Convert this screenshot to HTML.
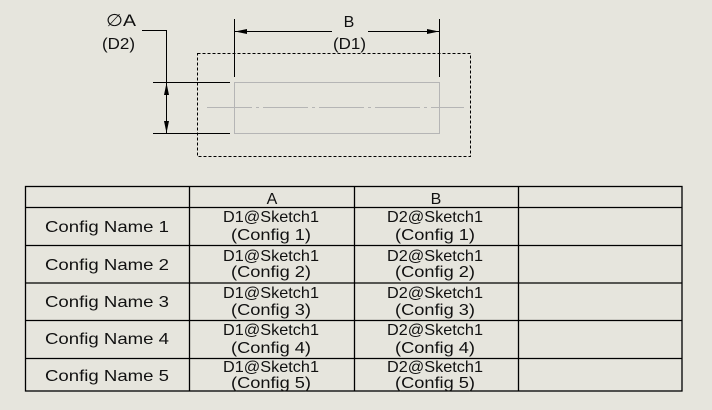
<!DOCTYPE html>
<html><head><style>
html,body{margin:0;padding:0;background:#E6E5DD;}
svg{display:block}
text{font-family:"Liberation Sans",sans-serif;fill:#111;}
</style></head><body>
<svg width="712" height="410" viewBox="0 0 712 410">
<rect width="712" height="410" fill="#E6E5DD"/>
<rect x="197.5" y="53.5" width="273" height="103" fill="none" stroke="#000" stroke-dasharray="3,2"/>
<rect x="234.5" y="82.5" width="205" height="51" fill="none" stroke="#b5b5b5"/>
<line x1="207" y1="107.5" x2="464" y2="107.5" stroke="#b5b5b5" stroke-dasharray="45,4,3,4"/>
<g stroke="#000" stroke-width="1" fill="none">
<line x1="142" y1="30.5" x2="166.5" y2="30.5"/>
<line x1="166.5" y1="30" x2="166.5" y2="133"/>
<line x1="153" y1="82.5" x2="230" y2="82.5"/>
<line x1="153" y1="133.5" x2="230" y2="133.5"/>
<line x1="234.5" y1="19" x2="234.5" y2="77"/>
<line x1="439.5" y1="19" x2="439.5" y2="77"/>
<line x1="234" y1="31.5" x2="332" y2="31.5"/>
<line x1="368" y1="31.5" x2="439" y2="31.5"/>
</g>
<polygon points="235,31.5 247,29 247,34" fill="#000"/>
<polygon points="439,31.5 427,29 427,34" fill="#000"/>
<polygon points="166.5,83 164,95 169,95" fill="#000"/>
<polygon points="166.5,133 164,121 169,121" fill="#000"/>
<text x="106" y="26" font-size="17" textLength="30" lengthAdjust="spacingAndGlyphs">∅A</text>
<text x="102" y="49" font-size="16" textLength="33" lengthAdjust="spacingAndGlyphs">(D2)</text>
<text x="349" y="27" font-size="16" text-anchor="middle">B</text>
<text x="333" y="49" font-size="16" textLength="33" lengthAdjust="spacingAndGlyphs">(D1)</text>
<g stroke="#000" stroke-width="1.3" fill="none">
<rect x="25.5" y="186.5" width="656.5" height="204.5"/>
<line x1="25" y1="207.5" x2="682" y2="207.5"/>
<line x1="25" y1="245.5" x2="682" y2="245.5"/>
<line x1="25" y1="283" x2="682" y2="283"/>
<line x1="25" y1="320.5" x2="682" y2="320.5"/>
<line x1="25" y1="358.5" x2="682" y2="358.5"/>
<line x1="189.5" y1="186" x2="189.5" y2="391"/>
<line x1="354.5" y1="186" x2="354.5" y2="391"/>
<line x1="518.5" y1="186" x2="518.5" y2="391"/>
</g>
<g font-size="16" text-anchor="middle" lengthAdjust="spacingAndGlyphs">
<text x="272" y="204">A</text>
<text x="436" y="204">B</text>
<text x="107" y="232" textLength="124" lengthAdjust="spacingAndGlyphs">Config Name 1</text>
<text x="107" y="270" textLength="124" lengthAdjust="spacingAndGlyphs">Config Name 2</text>
<text x="107" y="307" textLength="124" lengthAdjust="spacingAndGlyphs">Config Name 3</text>
<text x="107" y="344" textLength="124" lengthAdjust="spacingAndGlyphs">Config Name 4</text>
<text x="107" y="381" textLength="124" lengthAdjust="spacingAndGlyphs">Config Name 5</text>
<text x="271" y="222" textLength="96" lengthAdjust="spacingAndGlyphs">D1@Sketch1</text><text x="271" y="240" textLength="80" lengthAdjust="spacingAndGlyphs">(Config 1)</text>
<text x="271" y="261" textLength="96" lengthAdjust="spacingAndGlyphs">D1@Sketch1</text><text x="271" y="277" textLength="80" lengthAdjust="spacingAndGlyphs">(Config 2)</text>
<text x="271" y="298" textLength="96" lengthAdjust="spacingAndGlyphs">D1@Sketch1</text><text x="271" y="315" textLength="80" lengthAdjust="spacingAndGlyphs">(Config 3)</text>
<text x="271" y="335" textLength="96" lengthAdjust="spacingAndGlyphs">D1@Sketch1</text><text x="271" y="353" textLength="80" lengthAdjust="spacingAndGlyphs">(Config 4)</text>
<text x="271" y="372" textLength="96" lengthAdjust="spacingAndGlyphs">D1@Sketch1</text><text x="271" y="388" textLength="80" lengthAdjust="spacingAndGlyphs">(Config 5)</text>
<text x="435" y="222" textLength="96" lengthAdjust="spacingAndGlyphs">D2@Sketch1</text><text x="435" y="240" textLength="80" lengthAdjust="spacingAndGlyphs">(Config 1)</text>
<text x="435" y="261" textLength="96" lengthAdjust="spacingAndGlyphs">D2@Sketch1</text><text x="435" y="277" textLength="80" lengthAdjust="spacingAndGlyphs">(Config 2)</text>
<text x="435" y="298" textLength="96" lengthAdjust="spacingAndGlyphs">D2@Sketch1</text><text x="435" y="315" textLength="80" lengthAdjust="spacingAndGlyphs">(Config 3)</text>
<text x="435" y="335" textLength="96" lengthAdjust="spacingAndGlyphs">D2@Sketch1</text><text x="435" y="353" textLength="80" lengthAdjust="spacingAndGlyphs">(Config 4)</text>
<text x="435" y="372" textLength="96" lengthAdjust="spacingAndGlyphs">D2@Sketch1</text><text x="435" y="388" textLength="80" lengthAdjust="spacingAndGlyphs">(Config 5)</text>
</g>
</svg>
</body></html>
